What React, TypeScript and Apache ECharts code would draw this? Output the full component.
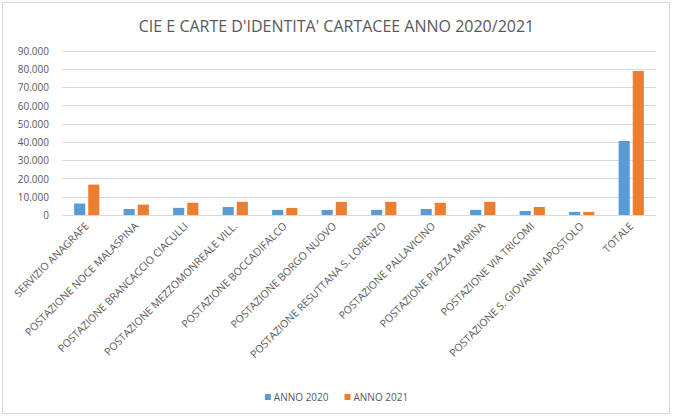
import React, { useEffect, useRef } from "react";
import * as echarts from "echarts";

const categories = [
  "SERVIZIO ANAGRAFE",
  "POSTAZIONE NOCE MALASPINA",
  "POSTAZIONE BRANCACCIO CIACULLI",
  "POSTAZIONE MEZZOMONREALE VILL.",
  "POSTAZIONE BOCCADIFALCO",
  "POSTAZIONE BORGO NUOVO",
  "POSTAZIONE RESUTTANA S. LORENZO",
  "POSTAZIONE PALLAVICINO",
  "POSTAZIONE PIAZZA MARINA",
  "POSTAZIONE VIA TRICOMI",
  "POSTAZIONE S. GIOVANNI APOSTOLO",
  "TOTALE",
];

const anno2020 = [6300, 3300, 3900, 4400, 2800, 2800, 2800, 3300, 2800, 2200, 1700, 40600];
const anno2021 = [16700, 5700, 6700, 7200, 3900, 7200, 7200, 6700, 7200, 4400, 1700, 79000];

const seriesNames = ["ANNO 2020", "ANNO 2021"];
const yMin = 0;
const yMax = 90000;
const yInterval = 10000;

const fmt = (v: number) => String(v).replace(/\B(?=(\d{3})+(?!\d))/g, ".");

export default function App() {
  const ref = useRef<HTMLDivElement>(null);
  useEffect(() => {
    if (!ref.current) return;
    const chart = echarts.init(ref.current, null, { renderer: "svg" });
    const font = "Open Sans";
    chart.setOption({
      animation: false,
      backgroundColor: "#ffffff",
      title: {
        text: "CIE E CARTE D'IDENTITA' CARTACEE ANNO 2020/2021",
        left: "center",
        top: 13,
        textStyle: { fontFamily: font, fontSize: 16, fontWeight: "normal", color: "#595959" },
      },
      graphic: [
        {
          type: "rect",
          shape: { x: 2.5, y: 2.5, width: 667, height: 411 },
          style: { fill: "none", stroke: "#d9d9d9", lineWidth: 1 },
          silent: true,
          z: -1,
        },
      ],
      legend: {
        data: seriesNames,
        top: 387,
        left: "center",
        icon: "rect",
        itemWidth: 6,
        itemHeight: 6,
        itemGap: 16,
        textStyle: { fontFamily: font, fontSize: 10, color: "#595959", padding: [0, 0, 0, -2] },
      },
      grid: { left: 62, right: 17, top: 51, bottom: 202, containLabel: false },
      xAxis: {
        type: "category",
        data: categories,
        axisLine: { lineStyle: { color: "#d9d9d9" } },
        axisTick: { show: false },
        axisLabel: {
          rotate: 45,
          interval: 0,
          margin: 9,
          fontFamily: font,
          fontSize: 10.5,
          color: "#595959",
        },
      },
      yAxis: {
        type: "value",
        min: yMin,
        max: yMax,
        interval: yInterval,
        axisLine: { show: false },
        axisTick: { show: false },
        splitLine: { lineStyle: { color: "#d9d9d9" } },
        axisLabel: {
          formatter: (v: number) => fmt(v),
          margin: 13,
          fontFamily: font,
          fontSize: 10,
          color: "#595959",
        },
      },
      series: [
        {
          name: seriesNames[0],
          type: "bar",
          data: anno2020,
          itemStyle: { color: "#5b9bd5" },
          barGap: "27%",
          barCategoryGap: "49%",
        },
        {
          name: seriesNames[1],
          type: "bar",
          data: anno2021,
          itemStyle: { color: "#ed7d31" },
          barGap: "27%",
          barCategoryGap: "49%",
        },
      ],
    });
    return () => chart.dispose();
  }, []);
  return (
    <div
      ref={ref}
      style={{ position: "fixed", left: 0, top: 0, width: 673, height: 417 }}
    />
  );
}
